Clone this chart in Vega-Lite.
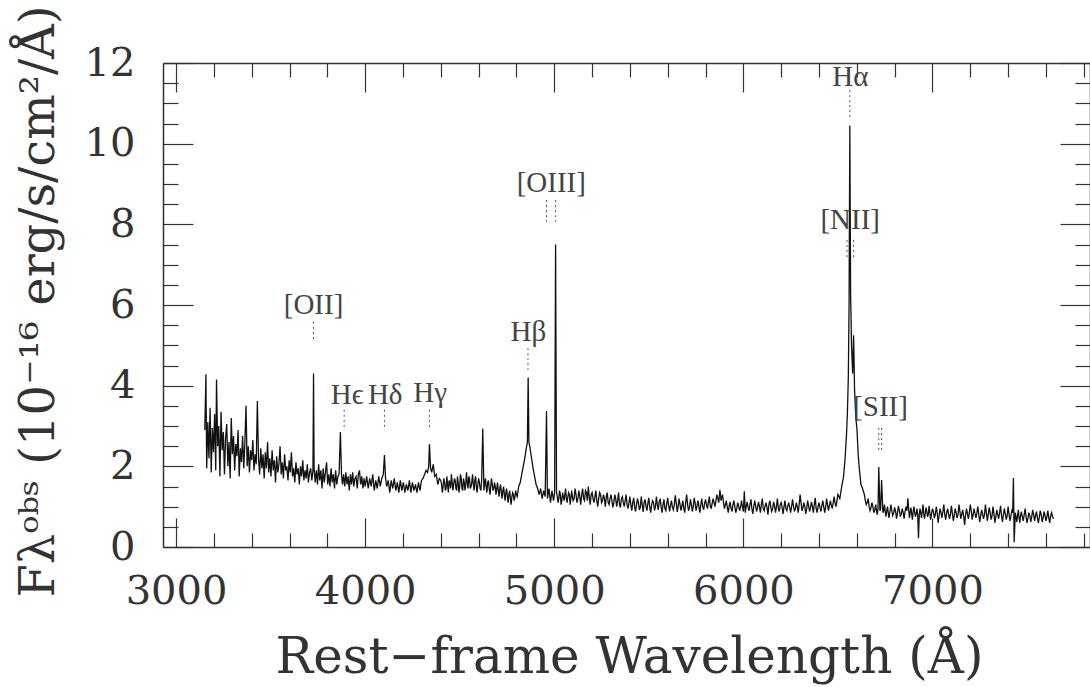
{
  "$schema": "https://vega.github.io/schema/vega-lite/v6.json",
  "width": 927,
  "height": 484,
  "autosize": "none",
  "padding": {"left": 163, "top": 63, "right": 0, "bottom": 140},
  "background": "white",
  "config": {"view": {"stroke": null}},
  "datasets": {
    "spectrum": [
      {"wl":3152,"flux":2.9},{"wl":3158,"flux":4.28},{"wl":3162,"flux":1.95},{"wl":3168,"flux":3.1},{"wl":3174,"flux":2.2},{"wl":3180,"flux":3.45},{"wl":3186,"flux":1.85},{"wl":3192,"flux":2.95},{"wl":3198,"flux":2.35},{"wl":3204,"flux":3.3},{"wl":3210,"flux":1.9},{"wl":3214,"flux":4.15},{"wl":3220,"flux":2.5},{"wl":3226,"flux":3.0},{"wl":3232,"flux":1.75},{"wl":3238,"flux":3.35},{"wl":3244,"flux":2.4},{"wl":3250,"flux":2.85},{"wl":3256,"flux":1.8},{"wl":3262,"flux":2.7},{"wl":3268,"flux":3.05},{"wl":3274,"flux":2.0},{"wl":3280,"flux":2.6},{"wl":3286,"flux":1.7},{"wl":3292,"flux":3.2},{"wl":3298,"flux":2.3},{"wl":3304,"flux":2.75},{"wl":3310,"flux":1.9},{"wl":3316,"flux":2.55},{"wl":3322,"flux":2.25},{"wl":3328,"flux":2.9},{"wl":3334,"flux":1.75},{"wl":3340,"flux":2.45},{"wl":3346,"flux":2.1},{"wl":3352,"flux":2.75},{"wl":3358,"flux":1.95},{"wl":3364,"flux":2.6},{"wl":3370,"flux":3.5},{"wl":3376,"flux":2.0},{"wl":3382,"flux":2.5},{"wl":3388,"flux":1.85},{"wl":3394,"flux":2.4},{"wl":3400,"flux":2.15},{"wl":3406,"flux":2.65},{"wl":3412,"flux":1.9},{"wl":3418,"flux":2.3},{"wl":3424,"flux":2.05},{"wl":3430,"flux":3.62},{"wl":3436,"flux":2.2},{"wl":3442,"flux":1.8},{"wl":3448,"flux":2.45},{"wl":3454,"flux":1.95},{"wl":3460,"flux":2.3},{"wl":3466,"flux":1.7},{"wl":3472,"flux":2.35},{"wl":3478,"flux":1.95},{"wl":3484,"flux":2.6},{"wl":3490,"flux":1.85},{"wl":3496,"flux":2.2},{"wl":3502,"flux":1.75},{"wl":3508,"flux":2.4},{"wl":3514,"flux":1.9},{"wl":3520,"flux":2.15},{"wl":3526,"flux":1.6},{"wl":3532,"flux":2.25},{"wl":3538,"flux":1.85},{"wl":3544,"flux":2.05},{"wl":3550,"flux":2.5},{"wl":3556,"flux":1.8},{"wl":3562,"flux":2.1},{"wl":3568,"flux":1.7},{"wl":3574,"flux":2.3},{"wl":3580,"flux":1.9},{"wl":3586,"flux":2.0},{"wl":3592,"flux":1.65},{"wl":3598,"flux":2.15},{"wl":3604,"flux":1.85},{"wl":3610,"flux":2.35},{"wl":3616,"flux":1.75},{"wl":3622,"flux":1.95},{"wl":3628,"flux":1.6},{"wl":3634,"flux":2.1},{"wl":3640,"flux":1.8},{"wl":3646,"flux":1.95},{"wl":3652,"flux":1.55},{"wl":3658,"flux":2.0},{"wl":3664,"flux":1.75},{"wl":3670,"flux":2.15},{"wl":3676,"flux":1.65},{"wl":3682,"flux":1.9},{"wl":3688,"flux":1.7},{"wl":3694,"flux":2.05},{"wl":3700,"flux":1.6},{"wl":3706,"flux":1.85},{"wl":3712,"flux":1.95},{"wl":3718,"flux":1.65},{"wl":3724,"flux":1.9},{"wl":3727,"flux":4.3},{"wl":3730,"flux":1.95},{"wl":3736,"flux":1.6},{"wl":3742,"flux":1.9},{"wl":3748,"flux":1.55},{"wl":3754,"flux":2.05},{"wl":3760,"flux":1.65},{"wl":3766,"flux":1.9},{"wl":3772,"flux":1.45},{"wl":3778,"flux":1.95},{"wl":3784,"flux":1.6},{"wl":3790,"flux":1.85},{"wl":3796,"flux":2.1},{"wl":3802,"flux":1.55},{"wl":3808,"flux":1.8},{"wl":3814,"flux":1.5},{"wl":3820,"flux":1.95},{"wl":3826,"flux":1.6},{"wl":3832,"flux":1.8},{"wl":3838,"flux":1.45},{"wl":3844,"flux":1.9},{"wl":3850,"flux":1.55},{"wl":3856,"flux":1.75},{"wl":3862,"flux":1.8},{"wl":3869,"flux":2.85},{"wl":3875,"flux":1.8},{"wl":3880,"flux":1.55},{"wl":3886,"flux":1.8},{"wl":3892,"flux":1.5},{"wl":3898,"flux":1.85},{"wl":3904,"flux":1.55},{"wl":3910,"flux":1.75},{"wl":3916,"flux":1.4},{"wl":3922,"flux":1.8},{"wl":3928,"flux":1.55},{"wl":3934,"flux":1.85},{"wl":3940,"flux":1.5},{"wl":3946,"flux":1.7},{"wl":3952,"flux":1.75},{"wl":3958,"flux":1.45},{"wl":3964,"flux":1.8},{"wl":3970,"flux":1.9},{"wl":3976,"flux":1.55},{"wl":3982,"flux":1.75},{"wl":3988,"flux":1.45},{"wl":3994,"flux":1.7},{"wl":4000,"flux":1.5},{"wl":4008,"flux":1.75},{"wl":4016,"flux":1.45},{"wl":4024,"flux":1.7},{"wl":4032,"flux":1.5},{"wl":4040,"flux":1.8},{"wl":4048,"flux":1.4},{"wl":4056,"flux":1.65},{"wl":4064,"flux":1.45},{"wl":4072,"flux":1.75},{"wl":4080,"flux":1.5},{"wl":4088,"flux":1.7},{"wl":4096,"flux":1.8},{"wl":4102,"flux":2.28},{"wl":4108,"flux":1.7},{"wl":4114,"flux":1.5},{"wl":4122,"flux":1.65},{"wl":4130,"flux":1.35},{"wl":4138,"flux":1.65},{"wl":4146,"flux":1.45},{"wl":4154,"flux":1.7},{"wl":4162,"flux":1.4},{"wl":4170,"flux":1.6},{"wl":4178,"flux":1.35},{"wl":4186,"flux":1.65},{"wl":4194,"flux":1.4},{"wl":4202,"flux":1.6},{"wl":4210,"flux":1.35},{"wl":4218,"flux":1.55},{"wl":4226,"flux":1.4},{"wl":4234,"flux":1.65},{"wl":4242,"flux":1.35},{"wl":4250,"flux":1.6},{"wl":4258,"flux":1.4},{"wl":4266,"flux":1.55},{"wl":4274,"flux":1.35},{"wl":4282,"flux":1.6},{"wl":4290,"flux":1.4},{"wl":4298,"flux":1.65},{"wl":4306,"flux":1.7},{"wl":4314,"flux":1.8},{"wl":4322,"flux":1.9},{"wl":4330,"flux":1.85},{"wl":4336,"flux":2.0},{"wl":4340,"flux":2.55},{"wl":4346,"flux":1.95},{"wl":4352,"flux":1.85},{"wl":4360,"flux":2.05},{"wl":4368,"flux":1.75},{"wl":4376,"flux":1.8},{"wl":4384,"flux":1.55},{"wl":4392,"flux":1.7},{"wl":4400,"flux":1.65},{"wl":4408,"flux":1.35},{"wl":4416,"flux":1.7},{"wl":4424,"flux":1.4},{"wl":4432,"flux":1.75},{"wl":4440,"flux":1.35},{"wl":4448,"flux":1.6},{"wl":4456,"flux":1.8},{"wl":4464,"flux":1.4},{"wl":4472,"flux":1.7},{"wl":4480,"flux":1.45},{"wl":4488,"flux":1.75},{"wl":4496,"flux":1.35},{"wl":4504,"flux":1.8},{"wl":4512,"flux":1.45},{"wl":4520,"flux":1.7},{"wl":4528,"flux":1.4},{"wl":4536,"flux":1.85},{"wl":4544,"flux":1.45},{"wl":4552,"flux":1.7},{"wl":4560,"flux":1.5},{"wl":4568,"flux":1.8},{"wl":4576,"flux":1.4},{"wl":4584,"flux":1.75},{"wl":4592,"flux":1.35},{"wl":4600,"flux":1.7},{"wl":4608,"flux":1.45},{"wl":4616,"flux":1.65},{"wl":4622,"flux":2.93},{"wl":4628,"flux":1.4},{"wl":4636,"flux":1.7},{"wl":4644,"flux":1.35},{"wl":4652,"flux":1.65},{"wl":4660,"flux":1.3},{"wl":4668,"flux":1.7},{"wl":4676,"flux":1.4},{"wl":4684,"flux":1.6},{"wl":4692,"flux":1.3},{"wl":4700,"flux":1.6},{"wl":4708,"flux":1.25},{"wl":4716,"flux":1.55},{"wl":4724,"flux":1.2},{"wl":4732,"flux":1.5},{"wl":4740,"flux":1.15},{"wl":4748,"flux":1.45},{"wl":4756,"flux":1.1},{"wl":4764,"flux":1.4},{"wl":4772,"flux":1.05},{"wl":4780,"flux":1.35},{"wl":4788,"flux":1.15},{"wl":4796,"flux":1.4},{"wl":4804,"flux":1.25},{"wl":4812,"flux":1.5},{"wl":4820,"flux":1.6},{"wl":4828,"flux":1.8},{"wl":4836,"flux":2.0},{"wl":4844,"flux":2.2},{"wl":4852,"flux":2.45},{"wl":4858,"flux":2.6},{"wl":4862,"flux":4.2},{"wl":4866,"flux":2.6},{"wl":4872,"flux":2.45},{"wl":4880,"flux":2.2},{"wl":4888,"flux":1.95},{"wl":4896,"flux":1.75},{"wl":4904,"flux":1.55},{"wl":4912,"flux":1.45},{"wl":4920,"flux":1.3},{"wl":4928,"flux":1.45},{"wl":4936,"flux":1.2},{"wl":4944,"flux":1.4},{"wl":4952,"flux":1.25},{"wl":4959,"flux":3.37},{"wl":4964,"flux":1.2},{"wl":4972,"flux":1.45},{"wl":4980,"flux":1.1},{"wl":4988,"flux":1.4},{"wl":4996,"flux":1.15},{"wl":5002,"flux":1.35},{"wl":5007,"flux":7.5},{"wl":5012,"flux":1.35},{"wl":5020,"flux":1.1},{"wl":5028,"flux":1.4},{"wl":5036,"flux":1.05},{"wl":5044,"flux":1.35},{"wl":5052,"flux":1.15},{"wl":5060,"flux":1.45},{"wl":5068,"flux":1.1},{"wl":5076,"flux":1.35},{"wl":5084,"flux":1.05},{"wl":5092,"flux":1.4},{"wl":5100,"flux":1.15},{"wl":5110,"flux":1.45},{"wl":5120,"flux":1.1},{"wl":5130,"flux":1.4},{"wl":5140,"flux":1.05},{"wl":5150,"flux":1.45},{"wl":5160,"flux":1.15},{"wl":5170,"flux":1.35},{"wl":5180,"flux":1.5},{"wl":5190,"flux":1.05},{"wl":5200,"flux":1.35},{"wl":5210,"flux":1.1},{"wl":5220,"flux":1.4},{"wl":5230,"flux":1.0},{"wl":5240,"flux":1.35},{"wl":5250,"flux":1.1},{"wl":5260,"flux":1.3},{"wl":5270,"flux":1.0},{"wl":5280,"flux":1.35},{"wl":5290,"flux":1.05},{"wl":5300,"flux":1.3},{"wl":5310,"flux":0.98},{"wl":5320,"flux":1.3},{"wl":5330,"flux":1.0},{"wl":5340,"flux":1.35},{"wl":5350,"flux":0.98},{"wl":5360,"flux":1.25},{"wl":5370,"flux":1.0},{"wl":5380,"flux":1.3},{"wl":5390,"flux":0.95},{"wl":5400,"flux":1.25},{"wl":5410,"flux":0.9},{"wl":5420,"flux":1.22},{"wl":5430,"flux":0.88},{"wl":5440,"flux":1.2},{"wl":5450,"flux":0.92},{"wl":5460,"flux":1.25},{"wl":5470,"flux":0.87},{"wl":5480,"flux":1.18},{"wl":5490,"flux":0.9},{"wl":5500,"flux":1.22},{"wl":5510,"flux":0.85},{"wl":5520,"flux":1.15},{"wl":5530,"flux":0.9},{"wl":5540,"flux":1.25},{"wl":5550,"flux":0.92},{"wl":5560,"flux":1.2},{"wl":5570,"flux":0.85},{"wl":5580,"flux":1.18},{"wl":5590,"flux":0.9},{"wl":5600,"flux":1.22},{"wl":5610,"flux":0.88},{"wl":5620,"flux":1.15},{"wl":5630,"flux":0.92},{"wl":5640,"flux":1.28},{"wl":5650,"flux":0.87},{"wl":5660,"flux":1.2},{"wl":5670,"flux":0.9},{"wl":5680,"flux":1.15},{"wl":5690,"flux":0.85},{"wl":5700,"flux":1.3},{"wl":5710,"flux":0.9},{"wl":5720,"flux":1.18},{"wl":5730,"flux":0.88},{"wl":5740,"flux":1.22},{"wl":5750,"flux":0.9},{"wl":5760,"flux":1.15},{"wl":5770,"flux":0.85},{"wl":5780,"flux":1.2},{"wl":5790,"flux":0.92},{"wl":5800,"flux":1.18},{"wl":5810,"flux":0.95},{"wl":5820,"flux":1.25},{"wl":5830,"flux":0.95},{"wl":5840,"flux":1.2},{"wl":5850,"flux":1.0},{"wl":5860,"flux":1.3},{"wl":5870,"flux":1.1},{"wl":5876,"flux":1.42},{"wl":5882,"flux":1.15},{"wl":5890,"flux":1.3},{"wl":5900,"flux":0.95},{"wl":5910,"flux":1.15},{"wl":5920,"flux":0.85},{"wl":5930,"flux":1.12},{"wl":5940,"flux":0.88},{"wl":5950,"flux":1.15},{"wl":5960,"flux":0.85},{"wl":5970,"flux":1.1},{"wl":5980,"flux":0.9},{"wl":5990,"flux":1.15},{"wl":6000,"flux":0.88},{"wl":6005,"flux":1.38},{"wl":6010,"flux":0.85},{"wl":6020,"flux":1.12},{"wl":6030,"flux":0.9},{"wl":6040,"flux":1.18},{"wl":6050,"flux":0.82},{"wl":6060,"flux":1.15},{"wl":6070,"flux":0.88},{"wl":6080,"flux":1.12},{"wl":6090,"flux":0.85},{"wl":6100,"flux":1.2},{"wl":6110,"flux":0.9},{"wl":6120,"flux":1.1},{"wl":6130,"flux":0.8},{"wl":6140,"flux":1.15},{"wl":6150,"flux":0.88},{"wl":6160,"flux":1.12},{"wl":6170,"flux":0.85},{"wl":6180,"flux":1.2},{"wl":6190,"flux":0.88},{"wl":6200,"flux":1.1},{"wl":6210,"flux":0.82},{"wl":6220,"flux":1.15},{"wl":6230,"flux":0.9},{"wl":6240,"flux":1.1},{"wl":6250,"flux":0.85},{"wl":6260,"flux":1.18},{"wl":6270,"flux":0.88},{"wl":6280,"flux":1.1},{"wl":6290,"flux":0.85},{"wl":6300,"flux":1.3},{"wl":6310,"flux":0.9},{"wl":6320,"flux":1.1},{"wl":6330,"flux":0.82},{"wl":6340,"flux":1.15},{"wl":6350,"flux":0.88},{"wl":6360,"flux":1.12},{"wl":6370,"flux":0.85},{"wl":6380,"flux":1.22},{"wl":6390,"flux":0.85},{"wl":6400,"flux":1.1},{"wl":6410,"flux":0.88},{"wl":6420,"flux":1.15},{"wl":6430,"flux":0.85},{"wl":6440,"flux":1.2},{"wl":6450,"flux":0.9},{"wl":6460,"flux":1.15},{"wl":6470,"flux":0.95},{"wl":6480,"flux":1.25},{"wl":6490,"flux":1.0},{"wl":6500,"flux":1.3},{"wl":6510,"flux":1.2},{"wl":6520,"flux":1.5},{"wl":6530,"flux":1.75},{"wl":6538,"flux":2.2},{"wl":6545,"flux":2.75},{"wl":6550,"flux":3.3},{"wl":6555,"flux":4.2},{"wl":6559,"flux":6.0},{"wl":6563,"flux":10.45},{"wl":6567,"flux":6.3},{"wl":6572,"flux":5.0},{"wl":6578,"flux":4.3},{"wl":6583,"flux":5.25},{"wl":6588,"flux":3.9},{"wl":6595,"flux":3.2},{"wl":6601,"flux":2.9},{"wl":6607,"flux":2.3},{"wl":6614,"flux":1.9},{"wl":6622,"flux":1.55},{"wl":6630,"flux":1.45},{"wl":6640,"flux":1.3},{"wl":6650,"flux":1.05},{"wl":6660,"flux":1.2},{"wl":6670,"flux":0.9},{"wl":6680,"flux":1.1},{"wl":6690,"flux":0.85},{"wl":6700,"flux":1.05},{"wl":6708,"flux":0.8},{"wl":6716,"flux":1.98},{"wl":6722,"flux":0.9},{"wl":6731,"flux":1.66},{"wl":6738,"flux":0.85},{"wl":6746,"flux":1.05},{"wl":6754,"flux":0.75},{"wl":6762,"flux":1.0},{"wl":6770,"flux":0.72},{"wl":6780,"flux":1.05},{"wl":6790,"flux":0.78},{"wl":6800,"flux":0.98},{"wl":6810,"flux":0.7},{"wl":6820,"flux":1.02},{"wl":6830,"flux":0.75},{"wl":6840,"flux":0.95},{"wl":6850,"flux":0.7},{"wl":6860,"flux":1.0},{"wl":6870,"flux":1.21},{"wl":6878,"flux":0.72},{"wl":6886,"flux":0.98},{"wl":6894,"flux":0.68},{"wl":6902,"flux":1.0},{"wl":6910,"flux":0.75},{"wl":6918,"flux":0.95},{"wl":6926,"flux":0.22},{"wl":6934,"flux":0.95},{"wl":6942,"flux":0.72},{"wl":6950,"flux":1.05},{"wl":6958,"flux":0.7},{"wl":6966,"flux":0.98},{"wl":6974,"flux":0.75},{"wl":6982,"flux":1.02},{"wl":6990,"flux":0.68},{"wl":7000,"flux":0.95},{"wl":7010,"flux":0.72},{"wl":7020,"flux":1.0},{"wl":7030,"flux":0.6},{"wl":7040,"flux":0.95},{"wl":7050,"flux":0.72},{"wl":7060,"flux":1.05},{"wl":7070,"flux":0.68},{"wl":7080,"flux":0.95},{"wl":7090,"flux":0.7},{"wl":7100,"flux":1.02},{"wl":7110,"flux":0.65},{"wl":7120,"flux":0.95},{"wl":7130,"flux":0.72},{"wl":7140,"flux":1.05},{"wl":7150,"flux":0.7},{"wl":7160,"flux":0.92},{"wl":7170,"flux":0.55},{"wl":7180,"flux":0.95},{"wl":7190,"flux":0.7},{"wl":7200,"flux":1.05},{"wl":7210,"flux":0.68},{"wl":7220,"flux":0.95},{"wl":7230,"flux":0.72},{"wl":7240,"flux":1.0},{"wl":7250,"flux":0.62},{"wl":7260,"flux":0.92},{"wl":7270,"flux":0.7},{"wl":7280,"flux":1.05},{"wl":7290,"flux":0.65},{"wl":7300,"flux":0.98},{"wl":7310,"flux":0.68},{"wl":7320,"flux":1.0},{"wl":7330,"flux":0.6},{"wl":7340,"flux":0.92},{"wl":7350,"flux":0.7},{"wl":7360,"flux":1.02},{"wl":7370,"flux":0.62},{"wl":7380,"flux":0.95},{"wl":7390,"flux":0.68},{"wl":7400,"flux":1.0},{"wl":7410,"flux":0.65},{"wl":7420,"flux":0.9},{"wl":7428,"flux":1.71},{"wl":7432,"flux":0.12},{"wl":7438,"flux":0.85},{"wl":7446,"flux":0.62},{"wl":7454,"flux":0.92},{"wl":7462,"flux":0.6},{"wl":7470,"flux":0.88},{"wl":7480,"flux":0.65},{"wl":7490,"flux":0.95},{"wl":7500,"flux":0.6},{"wl":7510,"flux":0.85},{"wl":7520,"flux":0.62},{"wl":7530,"flux":0.92},{"wl":7540,"flux":0.65},{"wl":7550,"flux":0.88},{"wl":7560,"flux":0.6},{"wl":7570,"flux":0.9},{"wl":7580,"flux":0.62},{"wl":7590,"flux":0.88},{"wl":7600,"flux":0.65},{"wl":7610,"flux":0.9},{"wl":7620,"flux":0.6},{"wl":7630,"flux":0.85},{"wl":7640,"flux":0.7},
      {"wl":4404,"flux":1.55},{"wl":4412,"flux":1.5},{"wl":4420,"flux":1.6},{"wl":4428,"flux":1.45},{"wl":4436,"flux":1.55},{"wl":4444,"flux":1.65},{"wl":4452,"flux":1.45},{"wl":4460,"flux":1.6},{"wl":4468,"flux":1.55},{"wl":4476,"flux":1.65},{"wl":4484,"flux":1.4},{"wl":4492,"flux":1.6},{"wl":4500,"flux":1.5},{"wl":4508,"flux":1.7},{"wl":4516,"flux":1.4},{"wl":4524,"flux":1.6},{"wl":4532,"flux":1.55},{"wl":4540,"flux":1.6},{"wl":4548,"flux":1.75},{"wl":4556,"flux":1.45},{"wl":4564,"flux":1.6},{"wl":4572,"flux":1.55},{"wl":4580,"flux":1.65},{"wl":4588,"flux":1.5},{"wl":4596,"flux":1.55},{"wl":4604,"flux":1.6},{"wl":4612,"flux":1.4},{"wl":4632,"flux":1.55},{"wl":4640,"flux":1.5},{"wl":4648,"flux":1.6},{"wl":4656,"flux":1.45},{"wl":4664,"flux":1.5},{"wl":4672,"flux":1.55},{"wl":4680,"flux":1.45},{"wl":4688,"flux":1.5},{"wl":4696,"flux":1.45},{"wl":4704,"flux":1.4},{"wl":4712,"flux":1.45},{"wl":4720,"flux":1.35},{"wl":4728,"flux":1.4},{"wl":4736,"flux":1.3},{"wl":4744,"flux":1.35},{"wl":4752,"flux":1.25},{"wl":4760,"flux":1.3},{"wl":4768,"flux":1.2},{"wl":4776,"flux":1.25},{"wl":4784,"flux":1.3},{"wl":4792,"flux":1.25},{"wl":4800,"flux":1.3},
      {"wl":5016,"flux":1.25},{"wl":5024,"flux":1.2},{"wl":5032,"flux":1.3},{"wl":5040,"flux":1.15},{"wl":5048,"flux":1.25},{"wl":5056,"flux":1.3},{"wl":5064,"flux":1.2},{"wl":5072,"flux":1.25},{"wl":5080,"flux":1.3},{"wl":5088,"flux":1.2},{"wl":5096,"flux":1.25},{"wl":5105,"flux":1.2},{"wl":5115,"flux":1.3},{"wl":5125,"flux":1.2},{"wl":5135,"flux":1.25},{"wl":5145,"flux":1.3},{"wl":5155,"flux":1.2},{"wl":5165,"flux":1.4},{"wl":5175,"flux":1.15},{"wl":5185,"flux":1.25},{"wl":5195,"flux":1.3},{"wl":5205,"flux":1.2},{"wl":5215,"flux":1.25},{"wl":5225,"flux":1.15},{"wl":5235,"flux":1.2},{"wl":5245,"flux":1.3},{"wl":5255,"flux":1.15},{"wl":5265,"flux":1.2},{"wl":5275,"flux":1.25},{"wl":5285,"flux":1.1},{"wl":5295,"flux":1.2},{"wl":5305,"flux":1.15},{"wl":5315,"flux":1.1},{"wl":5325,"flux":1.2},{"wl":5335,"flux":1.15},{"wl":5345,"flux":1.05},{"wl":5355,"flux":1.2},{"wl":5365,"flux":1.1},{"wl":5375,"flux":1.15},{"wl":5385,"flux":1.05},{"wl":5395,"flux":1.1},{"wl":5405,"flux":1.05},{"wl":5415,"flux":1.1},{"wl":5425,"flux":1.0},{"wl":5435,"flux":1.05},{"wl":5445,"flux":1.1},{"wl":5455,"flux":0.98},{"wl":5465,"flux":1.05},{"wl":5475,"flux":1.1},{"wl":5485,"flux":1.02},{"wl":5495,"flux":1.08},{"wl":5505,"flux":0.98},{"wl":5515,"flux":1.05},{"wl":5525,"flux":1.1},{"wl":5535,"flux":1.0},{"wl":5545,"flux":1.05},{"wl":5555,"flux":1.12},{"wl":5565,"flux":1.0},{"wl":5575,"flux":1.05},{"wl":5585,"flux":0.95},{"wl":5595,"flux":1.08},{"wl":5605,"flux":1.02},{"wl":5615,"flux":1.05},{"wl":5625,"flux":0.98},{"wl":5635,"flux":1.05},{"wl":5645,"flux":1.1},{"wl":5655,"flux":1.0},{"wl":5665,"flux":1.05},{"wl":5675,"flux":1.02},{"wl":5685,"flux":0.95},{"wl":5695,"flux":1.1},{"wl":5705,"flux":1.05},{"wl":5715,"flux":0.98},{"wl":5725,"flux":1.05},{"wl":5735,"flux":1.0},{"wl":5745,"flux":1.08},{"wl":5755,"flux":1.02},{"wl":5765,"flux":1.0},{"wl":5775,"flux":1.05},{"wl":5785,"flux":1.0},{"wl":5795,"flux":1.08},{"wl":5805,"flux":1.05},{"wl":5815,"flux":1.1},{"wl":5825,"flux":1.02},{"wl":5835,"flux":1.08},{"wl":5845,"flux":1.1},{"wl":5855,"flux":1.15},{"wl":5865,"flux":1.2},{"wl":5895,"flux":1.1},{"wl":5905,"flux":1.05},{"wl":5915,"flux":0.98},{"wl":5925,"flux":1.02},{"wl":5935,"flux":0.95},{"wl":5945,"flux":1.05},{"wl":5955,"flux":1.0},{"wl":5965,"flux":0.95},{"wl":5975,"flux":1.02},{"wl":5985,"flux":0.98},{"wl":5995,"flux":1.0},{"wl":6015,"flux":1.0},{"wl":6025,"flux":0.98},{"wl":6035,"flux":1.05},{"wl":6045,"flux":0.95},{"wl":6055,"flux":1.0},{"wl":6065,"flux":1.02},{"wl":6075,"flux":0.98},{"wl":6085,"flux":1.0},{"wl":6095,"flux":1.05},{"wl":6105,"flux":0.95},{"wl":6115,"flux":1.02},{"wl":6125,"flux":0.98},{"wl":6135,"flux":1.05},{"wl":6145,"flux":1.0},{"wl":6155,"flux":0.95},{"wl":6165,"flux":1.02},{"wl":6175,"flux":1.0},{"wl":6185,"flux":0.95},{"wl":6195,"flux":1.05},{"wl":6205,"flux":0.98},{"wl":6215,"flux":1.0},{"wl":6225,"flux":0.95},{"wl":6235,"flux":1.02},{"wl":6245,"flux":0.98},{"wl":6255,"flux":1.0},{"wl":6265,"flux":1.02},{"wl":6275,"flux":0.95},{"wl":6285,"flux":1.0},{"wl":6295,"flux":1.05},{"wl":6305,"flux":1.1},{"wl":6315,"flux":0.98},{"wl":6325,"flux":1.0},{"wl":6335,"flux":0.95},{"wl":6345,"flux":1.02},{"wl":6355,"flux":0.98},{"wl":6365,"flux":1.0},{"wl":6375,"flux":1.05},{"wl":6385,"flux":0.95},{"wl":6395,"flux":1.0},{"wl":6405,"flux":0.98},{"wl":6415,"flux":1.02},{"wl":6425,"flux":1.0},{"wl":6435,"flux":0.98},{"wl":6445,"flux":1.05},{"wl":6455,"flux":1.02},{"wl":6465,"flux":1.05},{"wl":6475,"flux":1.1},{"wl":6485,"flux":1.08},{"wl":6495,"flux":1.15},{"wl":6505,"flux":1.25},
      {"wl":6645,"flux":1.15},{"wl":6655,"flux":1.1},{"wl":6665,"flux":1.0},{"wl":6675,"flux":0.98},{"wl":6685,"flux":1.0},{"wl":6695,"flux":0.92},{"wl":6704,"flux":0.9},{"wl":6712,"flux":0.95},{"wl":6726,"flux":0.95},{"wl":6742,"flux":0.9},{"wl":6750,"flux":0.88},{"wl":6758,"flux":0.9},{"wl":6766,"flux":0.85},{"wl":6775,"flux":0.88},{"wl":6785,"flux":0.9},{"wl":6795,"flux":0.85},{"wl":6805,"flux":0.88},{"wl":6815,"flux":0.85},{"wl":6825,"flux":0.9},{"wl":6835,"flux":0.82},{"wl":6845,"flux":0.85},{"wl":6855,"flux":0.88},{"wl":6865,"flux":0.9},{"wl":6874,"flux":0.95},{"wl":6882,"flux":0.85},{"wl":6890,"flux":0.82},{"wl":6898,"flux":0.88},{"wl":6906,"flux":0.85},{"wl":6914,"flux":0.82},{"wl":6922,"flux":0.8},{"wl":6930,"flux":0.78},{"wl":6938,"flux":0.85},{"wl":6946,"flux":0.88},{"wl":6954,"flux":0.82},{"wl":6962,"flux":0.85},{"wl":6970,"flux":0.88},{"wl":6978,"flux":0.82},{"wl":6986,"flux":0.85},{"wl":6995,"flux":0.82},{"wl":7005,"flux":0.88},{"wl":7015,"flux":0.8},{"wl":7025,"flux":0.85},{"wl":7035,"flux":0.78},{"wl":7045,"flux":0.85},{"wl":7055,"flux":0.88},{"wl":7065,"flux":0.8},{"wl":7075,"flux":0.85},{"wl":7085,"flux":0.82},{"wl":7095,"flux":0.8},{"wl":7105,"flux":0.85},{"wl":7115,"flux":0.78},{"wl":7125,"flux":0.85},{"wl":7135,"flux":0.8},{"wl":7145,"flux":0.88},{"wl":7155,"flux":0.82},{"wl":7165,"flux":0.75},{"wl":7175,"flux":0.8},{"wl":7185,"flux":0.82},{"wl":7195,"flux":0.85},{"wl":7205,"flux":0.9},{"wl":7215,"flux":0.8},{"wl":7225,"flux":0.82},{"wl":7235,"flux":0.85},{"wl":7245,"flux":0.8},{"wl":7255,"flux":0.78},{"wl":7265,"flux":0.82},{"wl":7275,"flux":0.8},{"wl":7285,"flux":0.85},{"wl":7295,"flux":0.8},{"wl":7305,"flux":0.85},{"wl":7315,"flux":0.78},{"wl":7325,"flux":0.82},{"wl":7335,"flux":0.75},{"wl":7345,"flux":0.8},{"wl":7355,"flux":0.85},{"wl":7365,"flux":0.78},{"wl":7375,"flux":0.8},{"wl":7385,"flux":0.82},{"wl":7395,"flux":0.78},{"wl":7405,"flux":0.8},{"wl":7415,"flux":0.78},{"wl":7424,"flux":0.85},{"wl":7442,"flux":0.75},{"wl":7450,"flux":0.78},{"wl":7458,"flux":0.72},{"wl":7466,"flux":0.78},{"wl":7475,"flux":0.75},{"wl":7485,"flux":0.8},{"wl":7495,"flux":0.75},{"wl":7505,"flux":0.72},{"wl":7515,"flux":0.78},{"wl":7525,"flux":0.75},{"wl":7535,"flux":0.8},{"wl":7545,"flux":0.78},{"wl":7555,"flux":0.72},{"wl":7565,"flux":0.75},{"wl":7575,"flux":0.8},{"wl":7585,"flux":0.72},{"wl":7595,"flux":0.78},{"wl":7605,"flux":0.75},{"wl":7615,"flux":0.72},{"wl":7625,"flux":0.78},{"wl":7635,"flux":0.75}
    ],
    "markers": [
      {"wl":3727,"top":5.58,"bottom":5.08},
      {"wl":3889,"top":3.4,"bottom":2.9},
      {"wl":4102,"top":3.4,"bottom":2.9},
      {"wl":4340,"top":3.4,"bottom":2.9},
      {"wl":4861,"top":4.93,"bottom":4.39},
      {"wl":4959,"top":8.6,"bottom":8.06},
      {"wl":5007,"top":8.6,"bottom":8.06},
      {"wl":6563,"top":11.33,"bottom":10.59},
      {"wl":6548,"top":7.61,"bottom":7.12},
      {"wl":6583,"top":7.61,"bottom":7.12},
      {"wl":6716,"top":2.95,"bottom":2.4},
      {"wl":6731,"top":2.95,"bottom":2.4}
    ],
    "labels": [
      {"wl":3727,"flux":6.0,"label":"[OII]"},
      {"wl":3905,"flux":3.77,"label":"Hϵ"},
      {"wl":4106,"flux":3.77,"label":"Hδ"},
      {"wl":4344,"flux":3.82,"label":"Hγ"},
      {"wl":4863,"flux":5.33,"label":"Hβ"},
      {"wl":4984,"flux":9.03,"label":"[OIII]"},
      {"wl":6566,"flux":11.65,"label":"Hα"},
      {"wl":6565,"flux":8.1,"label":"[NII]"},
      {"wl":6725,"flux":3.47,"label":"[SII]"}
    ]
  },
  "layer": [
    {
      "data": {"name": "spectrum"},
      "mark": {"type": "line", "color": "#111111", "strokeWidth": 1.3, "clip": true},
      "encoding": {
        "x": {
          "field": "wl", "type": "quantitative",
          "scale": {"domain": [2931, 7833], "nice": false, "zero": false},
          "axis": {
            "orient": "bottom",
            "values": [3000,4000,5000,6000,7000],
            "format": "d",
            "tickSize": -29, "tickColor": "#333", "tickWidth": 1.2,
            "domainColor": "#333", "domainWidth": 1.5,
            "grid": false, "labelFlush": false, "labelOverlap": false,
            "labelFont": "DejaVu Serif", "labelFontSize": 40, "labelColor": "#333",
            "labelPadding": 53,
            "title": "Rest−frame Wavelength (Å)",
            "titleFont": "DejaVu Serif", "titleFontSize": 50, "titleFontWeight": "normal", "titleColor": "#333",
            "titleBaseline": "alphabetic", "titleX": 466, "titleY": 125
          }
        },
        "y": {
          "field": "flux", "type": "quantitative",
          "scale": {"domain": [0, 12], "nice": false, "zero": false},
          "axis": {
            "orient": "left",
            "values": [0,2,4,6,8,10,12],
            "format": "d",
            "tickSize": -30, "tickColor": "#333", "tickWidth": 1.2,
            "domainColor": "#333", "domainWidth": 1.5,
            "grid": false, "labelFlush": false, "labelOverlap": false,
            "labelFont": "DejaVu Serif", "labelFontSize": 40, "labelColor": "#333",
            "labelPadding": 58,
            "title": "Fλᵒᵇˢ (10⁻¹⁶ erg/s/cm²/Å)",
            "titleFont": "DejaVu Serif", "titleFontSize": 48, "titleFontWeight": "normal", "titleColor": "#333",
            "titleAngle": -90, "titleAlign": "left", "titleBaseline": "alphabetic",
            "titleX": -110, "titleY": 534
          }
        }
      }
    },
    {
      "data": {"name": "markers"},
      "transform": [{"filter": "datum.wl < 6000"}],
      "mark": {"type": "rule", "color": "#555", "strokeWidth": 1, "strokeDash": [2, 3]},
      "encoding": {
        "x": {
          "field": "wl", "type": "quantitative",
          "scale": {"domain": [2931, 7833], "nice": false, "zero": false},
          "axis": {
            "orient": "top", "values": [3000,4000,5000,6000,7000],
            "labels": false, "title": null, "grid": false,
            "tickSize": -29, "tickColor": "#333", "tickWidth": 1.2,
            "domainColor": "#333", "domainWidth": 1.5
          }
        },
        "y": {
          "field": "top", "type": "quantitative",
          "scale": {"domain": [0, 12], "nice": false, "zero": false},
          "axis": {
            "orient": "right", "values": [0,2,4,6,8,10,12],
            "labels": false, "title": null, "grid": false,
            "tickSize": -30, "tickColor": "#333", "tickWidth": 1.2,
            "domainColor": "#333", "domainWidth": 1.5
          }
        },
        "y2": {"field": "bottom"}
      }
    },
    {
      "data": {"name": "labels"},
      "mark": {"type": "text", "font": "Liberation Serif", "fontSize": 29, "color": "#444", "baseline": "middle", "align": "center"},
      "encoding": {
        "x": {
          "field": "wl", "type": "quantitative",
          "scale": {"domain": [2931, 7833], "nice": false, "zero": false},
          "axis": {
            "orient": "bottom",
            "values": [3200,3400,3600,3800,4200,4400,4600,4800,5200,5400,5600,5800,6200,6400,6600,6800,7200,7400,7600,7800],
            "labels": false, "title": null, "grid": false, "domain": false,
            "tickSize": -14, "tickColor": "#333", "tickWidth": 1.2
          }
        },
        "y": {
          "field": "flux", "type": "quantitative",
          "scale": {"domain": [0, 12], "nice": false, "zero": false},
          "axis": {
            "orient": "left",
            "values": [0.5,1,1.5,2.5,3,3.5,4.5,5,5.5,6.5,7,7.5,8.5,9,9.5,10.5,11,11.5],
            "labels": false, "title": null, "grid": false, "domain": false,
            "tickSize": -15, "tickColor": "#333", "tickWidth": 1.2
          }
        },
        "text": {"field": "label"}
      }
    },
    {
      "data": {"name": "markers"},
      "transform": [{"filter": "datum.wl >= 6000"}],
      "mark": {"type": "rule", "color": "#555", "strokeWidth": 1, "strokeDash": [2, 3]},
      "encoding": {
        "x": {
          "field": "wl", "type": "quantitative",
          "scale": {"domain": [2931, 7833], "nice": false, "zero": false},
          "axis": {
            "orient": "top",
            "values": [3200,3400,3600,3800,4200,4400,4600,4800,5200,5400,5600,5800,6200,6400,6600,6800,7200,7400,7600,7800],
            "labels": false, "title": null, "grid": false, "domain": false,
            "tickSize": -14, "tickColor": "#333", "tickWidth": 1.2
          }
        },
        "y": {
          "field": "top", "type": "quantitative",
          "scale": {"domain": [0, 12], "nice": false, "zero": false},
          "axis": {
            "orient": "right",
            "values": [0.5,1,1.5,2.5,3,3.5,4.5,5,5.5,6.5,7,7.5,8.5,9,9.5,10.5,11,11.5],
            "labels": false, "title": null, "grid": false, "domain": false,
            "tickSize": -15, "tickColor": "#333", "tickWidth": 1.2
          }
        },
        "y2": {"field": "bottom"}
      }
    }
  ],
  "resolve": {"axis": {"x": "independent", "y": "independent"}}
}
